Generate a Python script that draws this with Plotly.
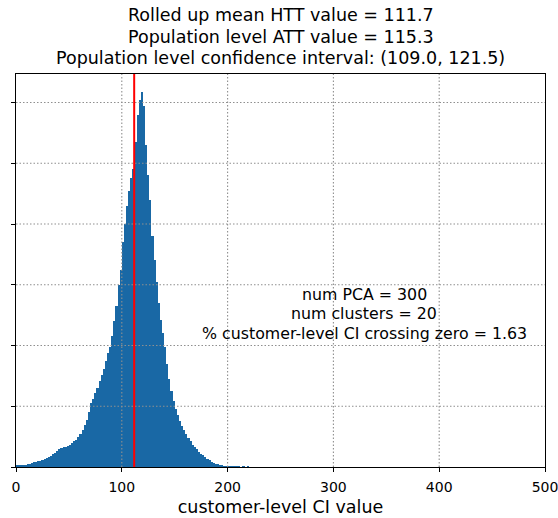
import plotly.graph_objects as go

# ---- data ----
bin_start = 0
bin_width = 2
counts = [
    30, 30, 32, 35, 38, 45, 55, 65, 75, 85,            # 0-20
    95, 105, 120, 135, 150, 165, 185, 210, 235, 270,    # 20-40
    300, 310, 325, 335, 350, 365, 390, 420, 450, 500,   # 40-60
    550, 610, 690, 780, 900, 1050, 1120, 1220, 1300, 1420,  # 60-80
    1520, 1620, 1740, 1880, 1980, 2150, 2400, 2650, 3000, 3250,  # 80-100
    3700, 4000, 4300, 4550, 4750, 4900, 5350, 5800, 6050, 6170,  # 100-120
    5950, 5300, 4800, 4400, 3800, 3400, 3050, 2700, 2420, 2200,  # 120-140
    1980, 1700, 1450, 1250, 1080, 950, 850, 760, 680, 610,       # 140-160
    540, 480, 420, 370, 330, 290, 250, 220, 190, 160,            # 160-180
    130, 110, 90, 70, 55, 45, 35, 22, 14, 8,                     # 180-200
    4, 7, 3, 5, 2, 4, 0, 3, 0, 3,                                # 200-220
]
htt_mean = 111.7
att_value = 115.3
ci_low, ci_high = 109.0, 121.5
num_pca = 300
num_clusters = 20
pct_cross_zero = 1.63

x_ticks = [0, 100, 200, 300, 400, 500]
y_ticks = [0, 1000, 2000, 3000, 4000, 5000, 6000]
x_range = [0, 500]
y_range = [0, 6470]

centers = [bin_start + bin_width * (i + 0.5) for i in range(len(counts))]

FONT = "DejaVu Sans"
fig = go.Figure()
fig.add_trace(go.Bar(
    x=centers, y=counts, width=bin_width,
    marker=dict(color="#1968a5", line=dict(width=0)),
    showlegend=False, hoverinfo="skip",
))

grid_style = dict(color="#8f8f8f", width=1.1, dash="1.5px,2px")
shapes = []
for t in x_ticks[1:-1]:
    shapes.append(dict(type="line", xref="x", yref="paper", x0=t, x1=t, y0=0, y1=1,
                       line=grid_style, layer="above"))
for t in y_ticks[1:]:
    shapes.append(dict(type="line", xref="paper", yref="y", x0=0, x1=1, y0=t, y1=t,
                       line=grid_style, layer="above"))
shapes.append(dict(type="line", xref="x", yref="paper", x0=htt_mean, x1=htt_mean, y0=0, y1=1,
                   line=dict(color="red", width=2), layer="above"))

title_lines = [
    f"Rolled up mean HTT value = {htt_mean}",
    f"Population level ATT value = {att_value}",
    f"Population level confidence interval: ({ci_low}, {ci_high})",
]
annotations = []
for i, line in enumerate(title_lines):
    annotations.append(dict(text=line, xref="paper", yref="paper", x=0.5, y=1,
                            yshift=16 + 21.5 * (2 - i), xanchor="center", yanchor="middle",
                            showarrow=False, font=dict(family=FONT, size=17.5, color="black")))
info_lines = [
    f"num PCA = {num_pca}",
    f"num clusters = {num_clusters}",
    f"% customer-level CI crossing zero = {pct_cross_zero}",
]
for i, line in enumerate(info_lines):
    annotations.append(dict(text=line, xref="paper", yref="paper", x=0.658, y=0.44,
                            yshift=-19.5 * i, xanchor="center", yanchor="middle",
                            showarrow=False, font=dict(family=FONT, size=15.8, color="black")))

fig.update_layout(
    width=558, height=518,
    margin=dict(l=16, r=13, t=74, b=51, autoexpand=False),
    paper_bgcolor="white", plot_bgcolor="white",
    bargap=0,
    shapes=shapes,
    annotations=annotations,
    font=dict(family=FONT, color="black"),
    xaxis=dict(
        range=x_range, tickvals=x_ticks, ticks="outside", ticklen=4, tickcolor="black",
        showgrid=False, zeroline=False, showline=True, linecolor="black", linewidth=1, mirror=True,
        automargin=False, ticklabeloverflow="allow", ticklabelstandoff=3,
        tickfont=dict(family=FONT, size=14, color="black"),
        title=dict(text="customer-level CI value", font=dict(family=FONT, size=17.5, color="black"),
                   standoff=6),
    ),
    yaxis=dict(
        range=y_range, tickvals=y_ticks, ticks="outside", ticklen=4, tickcolor="black",
        showticklabels=False, showgrid=False, zeroline=False, automargin=False,
        showline=True, linecolor="black", linewidth=1, mirror=True,
    ),
)

fig.write_html("out.html")
